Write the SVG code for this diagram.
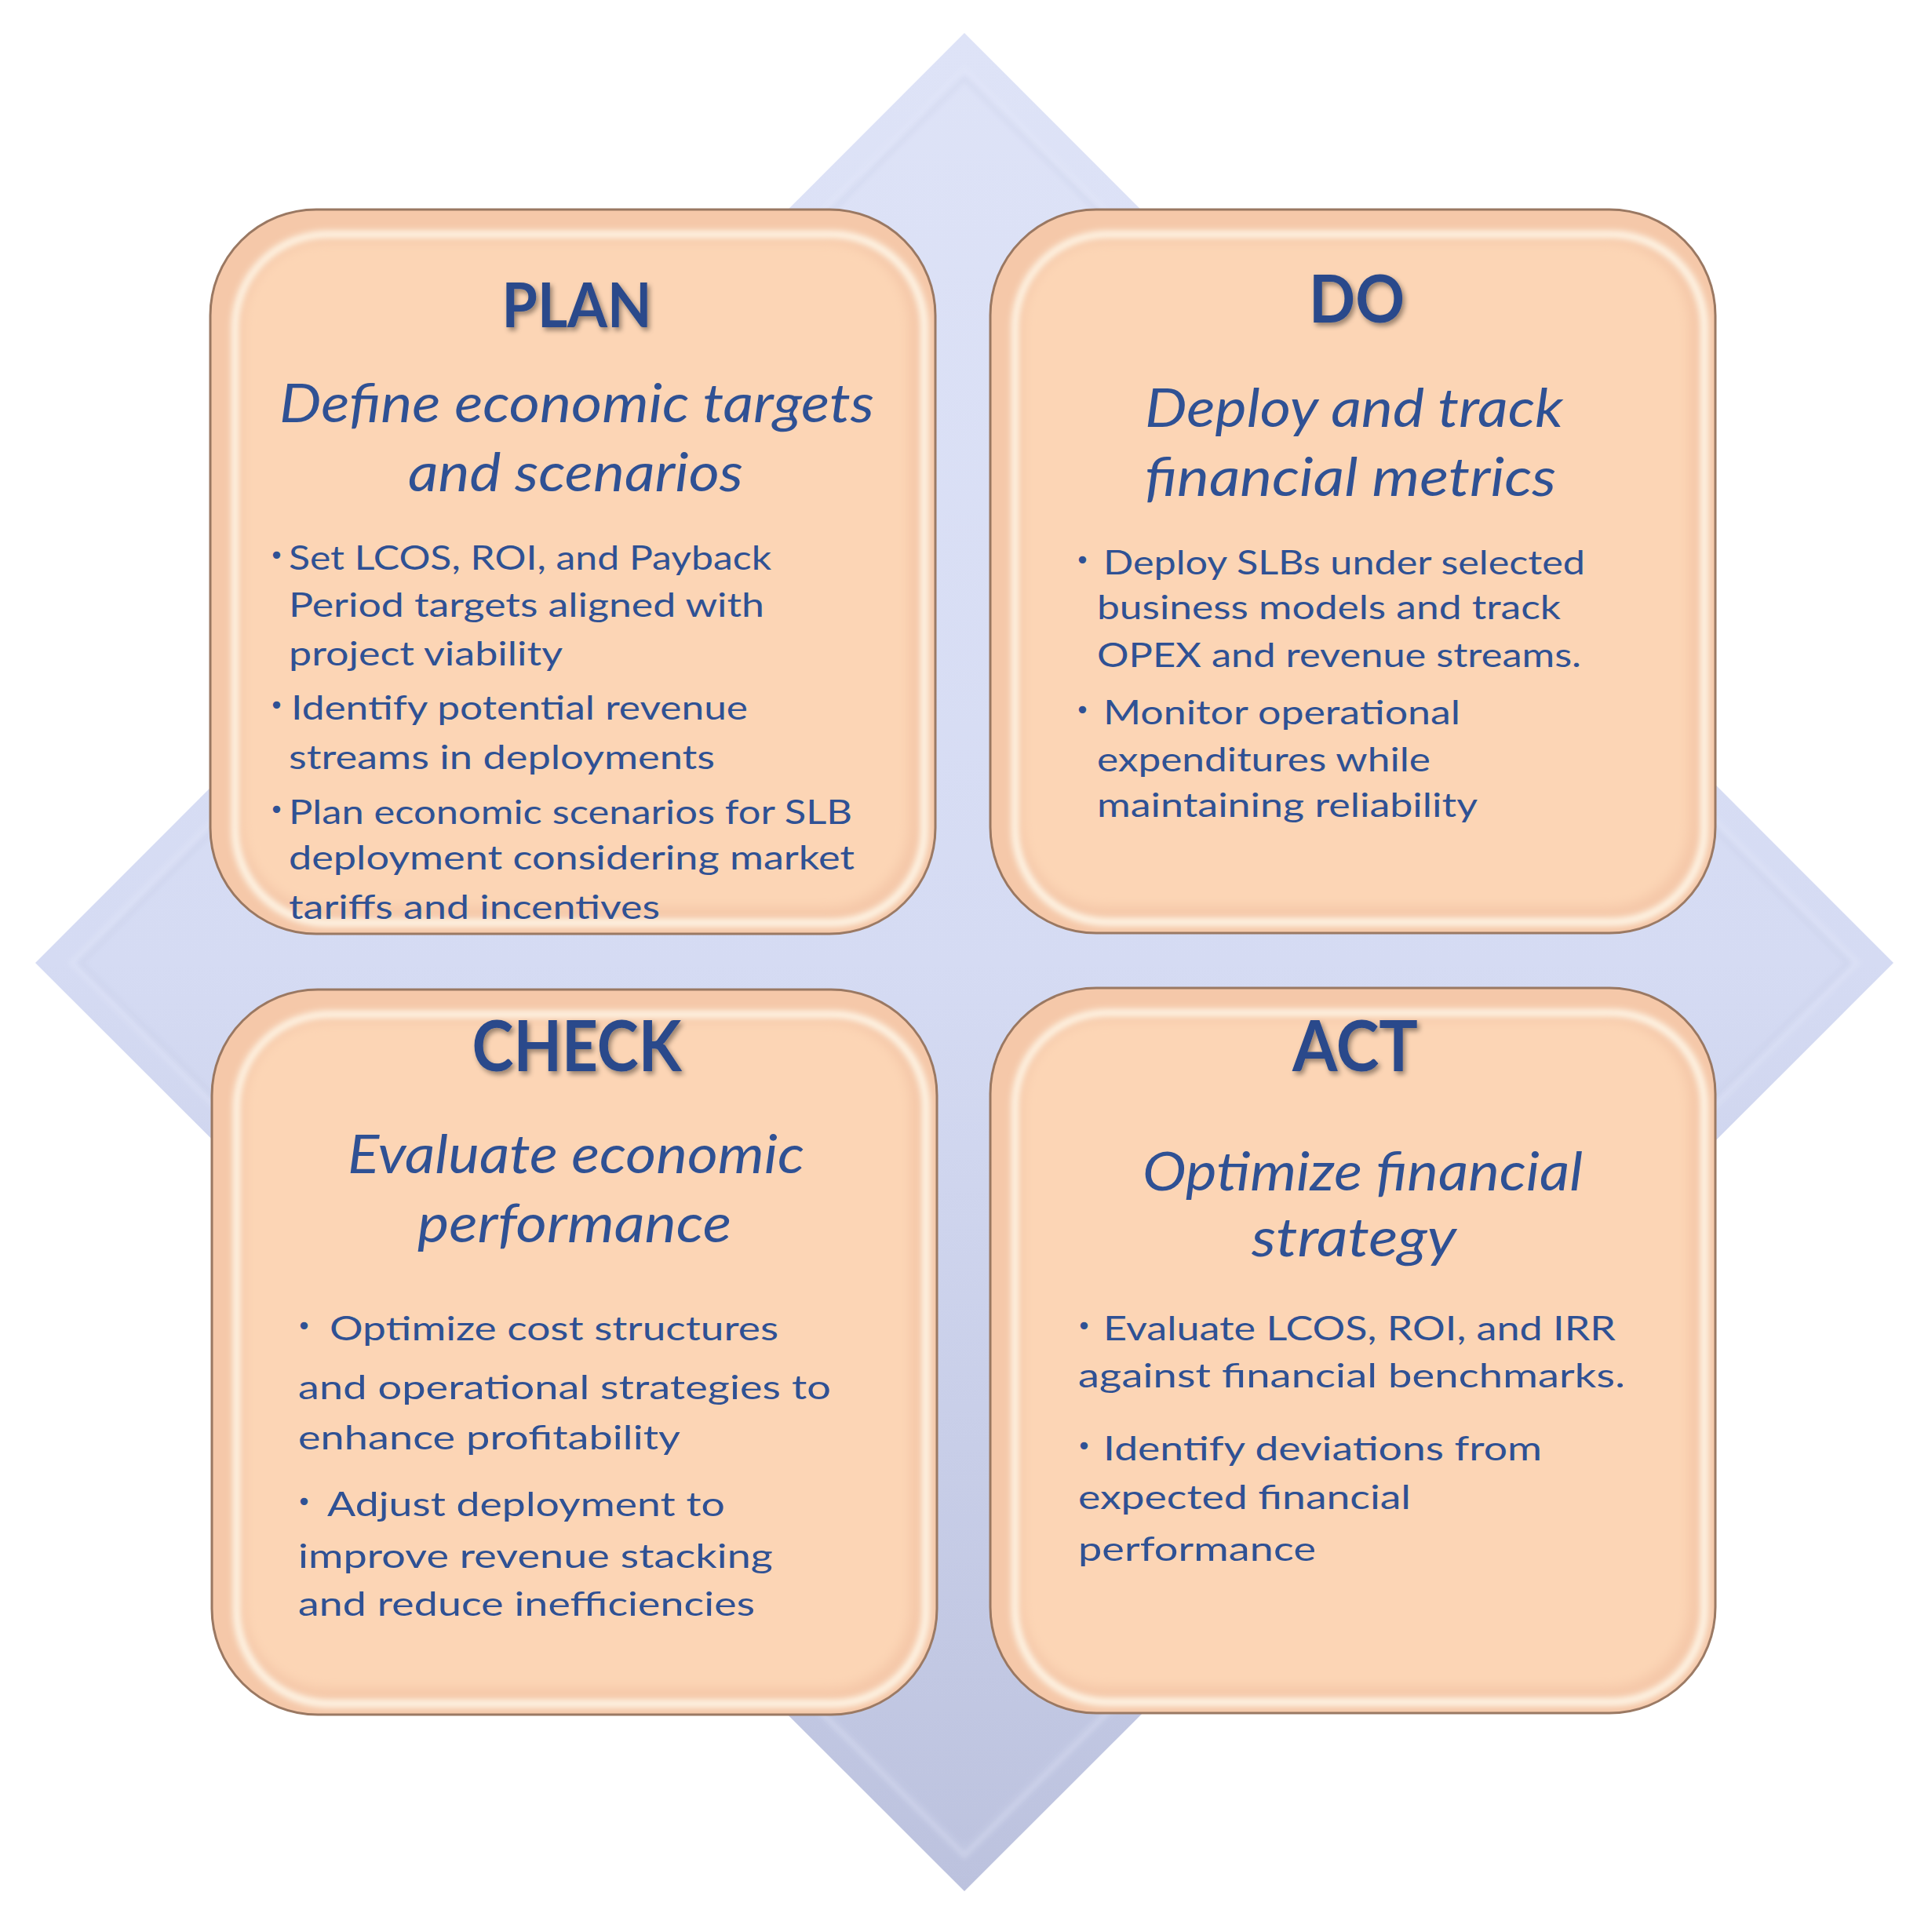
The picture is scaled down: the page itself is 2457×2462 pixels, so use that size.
<svg xmlns="http://www.w3.org/2000/svg" width="2457" height="2462" viewBox="0 0 2457 2462">
<defs>
<style>
.title{font-family:Lato,"Liberation Sans",sans-serif;font-weight:bold;fill:#2A4A8B;text-anchor:middle;filter:url(#tshadow)}
.sub{font-family:Lato,"Liberation Sans",sans-serif;font-style:italic;font-size:67px;fill:#2F5194}
.bul{font-family:Lato,"Liberation Sans",sans-serif;font-size:43px;fill:#2F5194}
.dot{font-family:"DejaVu Sans",sans-serif;font-size:32px;fill:#2F5194}
.edge{fill:#F5C8A9;stroke:#9A7862;stroke-width:3}
.rim{fill:none;stroke:#FFFBEE;stroke-width:9;filter:url(#soft4)}
.core{fill:#FCD5B5;filter:url(#soft6)}
</style>
<linearGradient id="diaG" x1="0" y1="0" x2="0" y2="1">
<stop offset="0" stop-color="#DEE3F7"/>
<stop offset="0.5" stop-color="#D5DBF3"/>
<stop offset="1" stop-color="#BCC2DE"/>
</linearGradient>
<filter id="soft4" x="-5%" y="-5%" width="110%" height="110%"><feGaussianBlur stdDeviation="4"/></filter>
<filter id="soft6" x="-5%" y="-5%" width="110%" height="110%"><feGaussianBlur stdDeviation="7"/></filter>
<filter id="soft3" x="-5%" y="-5%" width="110%" height="110%"><feGaussianBlur stdDeviation="3"/></filter>
<filter id="tshadow" x="-10%" y="-20%" width="130%" height="150%"><feDropShadow dx="3" dy="4" stdDeviation="3" flood-color="#000" flood-opacity="0.4"/></filter>
</defs>
<rect width="2457" height="2462" fill="#FFFFFF"/>
<g id="diamond">
<polygon points="1229,42 2413,1227 1229,2410 45,1227" fill="url(#diaG)"/>
<polygon points="1229,88 2367,1227 1229,2364 91,1227" fill="none" stroke="#E4E8F9" stroke-width="8" opacity="0.35" filter="url(#soft3)"/>
<polygon points="1229,100 2355,1227 1229,2352 103,1227" fill="none" stroke="#C4CAE4" stroke-width="5" opacity="0.35" filter="url(#soft3)"/>
</g>
<g id="connectors"></g>
<g id="plan">
<rect class="edge" x="268" y="267" width="924" height="923" rx="135"/>
<rect class="rim" x="300" y="299" width="878" height="877" rx="118"/>
<rect class="core" x="310" y="309" width="848" height="847" rx="105"/>
<text class="title" x="735" y="417" font-size="78" textLength="191" lengthAdjust="spacingAndGlyphs">PLAN</text>
<text class="sub" x="356" y="538" textLength="758" lengthAdjust="spacingAndGlyphs">Define economic targets</text>
<text class="sub" x="520" y="626" textLength="427" lengthAdjust="spacingAndGlyphs">and scenarios</text>
<text class="dot" x="343" y="719">•</text>
<text class="bul" x="368" y="726" textLength="615" lengthAdjust="spacingAndGlyphs">Set LCOS, ROI, and Payback</text>
<text class="bul" x="368" y="786" textLength="606" lengthAdjust="spacingAndGlyphs">Period targets aligned with</text>
<text class="bul" x="368" y="848" textLength="349" lengthAdjust="spacingAndGlyphs">project viability</text>
<text class="dot" x="343" y="910">•</text>
<text class="bul" x="371" y="917" textLength="582" lengthAdjust="spacingAndGlyphs">Identify potential revenue</text>
<text class="bul" x="368" y="980" textLength="543" lengthAdjust="spacingAndGlyphs">streams in deployments</text>
<text class="dot" x="343" y="1043">•</text>
<text class="bul" x="368" y="1050" textLength="718" lengthAdjust="spacingAndGlyphs">Plan economic scenarios for SLB</text>
<text class="bul" x="368" y="1108" textLength="721" lengthAdjust="spacingAndGlyphs">deployment considering market</text>
<text class="bul" x="368" y="1171" textLength="473" lengthAdjust="spacingAndGlyphs">tariffs and incentives</text>
</g>
<g id="do">
<rect class="edge" x="1262" y="267" width="924" height="922" rx="135"/>
<rect class="rim" x="1294" y="299" width="878" height="876" rx="118"/>
<rect class="core" x="1304" y="309" width="848" height="846" rx="105"/>
<text class="title" x="1729" y="411" font-size="85" textLength="122" lengthAdjust="spacingAndGlyphs">DO</text>
<text class="sub" x="1459" y="544" textLength="533" lengthAdjust="spacingAndGlyphs">Deploy and track</text>
<text class="sub" x="1459" y="632" textLength="524" lengthAdjust="spacingAndGlyphs">financial metrics</text>
<text class="dot" x="1370" y="725">•</text>
<text class="bul" x="1406" y="732" textLength="614" lengthAdjust="spacingAndGlyphs">Deploy SLBs under selected</text>
<text class="bul" x="1398" y="789" textLength="591" lengthAdjust="spacingAndGlyphs">business models and track</text>
<text class="bul" x="1398" y="850" textLength="617" lengthAdjust="spacingAndGlyphs">OPEX and revenue streams.</text>
<text class="dot" x="1370" y="916">•</text>
<text class="bul" x="1406" y="923" textLength="455" lengthAdjust="spacingAndGlyphs">Monitor operational</text>
<text class="bul" x="1398" y="983" textLength="425" lengthAdjust="spacingAndGlyphs">expenditures while</text>
<text class="bul" x="1398" y="1041" textLength="485" lengthAdjust="spacingAndGlyphs">maintaining reliability</text>
</g>
<g id="check">
<rect class="edge" x="270" y="1261" width="924" height="924" rx="135"/>
<rect class="rim" x="302" y="1293" width="878" height="878" rx="118"/>
<rect class="core" x="312" y="1303" width="848" height="848" rx="105"/>
<text class="title" x="735" y="1365" font-size="90" textLength="267" lengthAdjust="spacingAndGlyphs">CHECK</text>
<text class="sub" x="443" y="1495" textLength="582" lengthAdjust="spacingAndGlyphs">Evaluate economic</text>
<text class="sub" x="532" y="1583" textLength="400" lengthAdjust="spacingAndGlyphs">performance</text>
<text class="dot" x="378" y="1701">•</text>
<text class="bul" x="420" y="1708" textLength="572" lengthAdjust="spacingAndGlyphs">Optimize cost structures</text>
<text class="bul" x="380" y="1783" textLength="679" lengthAdjust="spacingAndGlyphs">and operational strategies to</text>
<text class="bul" x="380" y="1847" textLength="487" lengthAdjust="spacingAndGlyphs">enhance profitability</text>
<text class="dot" x="378" y="1925">•</text>
<text class="bul" x="417" y="1932" textLength="507" lengthAdjust="spacingAndGlyphs">Adjust deployment to</text>
<text class="bul" x="380" y="1998" textLength="605" lengthAdjust="spacingAndGlyphs">improve revenue stacking</text>
<text class="bul" x="380" y="2059" textLength="582" lengthAdjust="spacingAndGlyphs">and reduce inefficiencies</text>
</g>
<g id="act">
<rect class="edge" x="1262" y="1259" width="924" height="924" rx="135"/>
<rect class="rim" x="1294" y="1291" width="878" height="878" rx="118"/>
<rect class="core" x="1304" y="1301" width="848" height="848" rx="105"/>
<text class="title" x="1727" y="1365" font-size="90" textLength="160" lengthAdjust="spacingAndGlyphs">ACT</text>
<text class="sub" x="1456" y="1517" textLength="561" lengthAdjust="spacingAndGlyphs">Optimize financial</text>
<text class="sub" x="1595" y="1601" textLength="261" lengthAdjust="spacingAndGlyphs">strategy</text>
<text class="dot" x="1372" y="1701">•</text>
<text class="bul" x="1406" y="1708" textLength="653" lengthAdjust="spacingAndGlyphs">Evaluate LCOS, ROI, and IRR</text>
<text class="bul" x="1374" y="1768" textLength="697" lengthAdjust="spacingAndGlyphs">against financial benchmarks.</text>
<text class="dot" x="1372" y="1854">•</text>
<text class="bul" x="1406" y="1861" textLength="559" lengthAdjust="spacingAndGlyphs">Identify deviations from</text>
<text class="bul" x="1374" y="1923" textLength="424" lengthAdjust="spacingAndGlyphs">expected financial</text>
<text class="bul" x="1374" y="1989" textLength="303" lengthAdjust="spacingAndGlyphs">performance</text>
</g>
</svg>
